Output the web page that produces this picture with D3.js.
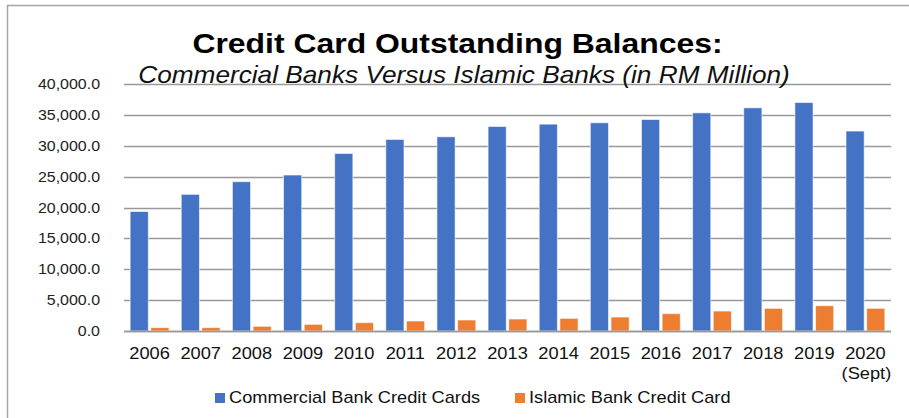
<!DOCTYPE html>
<html>
<head>
<meta charset="utf-8">
<script src="https://d3js.org/d3.v7.min.js"></script>
<style>
  body { margin: 0; background: #fff; }
  svg { display: block; font-family: "Liberation Sans", Arial, sans-serif; }
</style>
</head>
<body>
<div id="chart"></div>
<script>
const width = 909;
const height = 418;

const years = ['2006', '2007', '2008', '2009', '2010', '2011', '2012', '2013',
  '2014', '2015', '2016', '2017', '2018', '2019', '2020'];
const commercial = [19350, 22130, 24180, 25260, 28750, 31020, 31450, 33120,
  33500, 33720, 34250, 35330, 36140, 37000, 32380];
const islamic = [550, 550, 760, 1080, 1350, 1620, 1780, 1940,
  2050, 2260, 2810, 3230, 3670, 4100, 3670];
const seriesNames = ['Commercial Bank Credit Cards', 'Islamic Bank Credit Card'];
const colors = ['#4472c4', '#ed7d31'];
const yTicks = [0, 5000, 10000, 15000, 20000, 25000, 30000, 35000, 40000];

const margin = {top: 84, right: 18, bottom: 87, left: 124};
const sx = 1.14; // source image text is a bit stretched horizontally

const svg = d3.select('#chart')
  .append('svg')
  .attr('width', width)
  .attr('height', height);

// frame (top + left edge only visible)
svg.append('path')
  .attr('d', `M7.5,${height} V5.5 H${width}`)
  .attr('fill', 'none')
  .attr('stroke', '#a6a6a6')
  .attr('stroke-width', 1.5);

const x = d3.scaleBand()
  .domain(years)
  .range([margin.left, width - margin.right])
  .paddingInner(0.24)
  .paddingOuter(0.12);

const x1 = d3.scaleBand()
  .domain([0, 1])
  .range([0, x.bandwidth()])
  .paddingInner(0.12);

const y = d3.scaleLinear()
  .domain([0, 40000])
  .range([height - margin.bottom, margin.top]);

const at = (px, py) => `translate(${px},${py}) scale(${sx},1)`;

// gridlines
svg.append('g')
  .selectAll('line')
  .data(yTicks)
  .enter()
  .append('line')
  .attr('x1', margin.left)
  .attr('x2', width - margin.right)
  .attr('y1', d => Math.round(y(d)) + 0.5)
  .attr('y2', d => Math.round(y(d)) + 0.5)
  .attr('stroke', '#999')
  .attr('stroke-width', 1.5);

// y axis labels
const fmt = d3.format(',.1f');
svg.append('g')
  .selectAll('text')
  .data(yTicks)
  .enter()
  .append('text')
  .attr('transform', d => at(100, y(d) + 5))
  .attr('text-anchor', 'end')
  .style('font-size', '14px')
  .style('fill', '#222')
  .text(d => fmt(d));

// bars
const groups = svg.append('g')
  .selectAll('g')
  .data(years)
  .enter()
  .append('g')
  .attr('transform', d => `translate(${x(d)},0)`);

groups.selectAll('rect')
  .data((d, i) => [commercial[i], islamic[i]])
  .enter()
  .append('rect')
  .attr('x', (d, j) => x1(j))
  .attr('width', x1.bandwidth())
  .attr('y', d => y(d))
  .attr('height', d => y(0) - y(d))
  .attr('fill', (d, j) => colors[j])
  .attr('stroke', '#fff')
  .attr('stroke-opacity', 0.6)
  .attr('stroke-width', 1);

// redraw baseline over bars
svg.append('line')
  .attr('x1', margin.left)
  .attr('x2', width - margin.right)
  .attr('y1', Math.round(y(0)) + 0.5)
  .attr('y2', Math.round(y(0)) + 0.5)
  .attr('stroke', '#999')
  .attr('stroke-width', 1.5);

// x labels
svg.append('g')
  .selectAll('text')
  .data(years)
  .enter()
  .append('text')
  .attr('transform', d => at(x(d) + x.bandwidth() / 2, 359))
  .attr('text-anchor', 'middle')
  .style('font-size', '16px')
  .style('fill', '#111')
  .text(d => d);

svg.append('text')
  .attr('transform', at(x('2020') + x.bandwidth() / 2 + 1, 379))
  .attr('text-anchor', 'middle')
  .style('font-size', '16px')
  .style('fill', '#111')
  .text('(Sept)');

// title
svg.append('text')
  .attr('transform', at(457.5, 53))
  .attr('text-anchor', 'middle')
  .style('font-size', '28px')
  .style('font-weight', 'bold')
  .style('fill', '#000')
  .text('Credit Card Outstanding Balances:');

svg.append('text')
  .attr('transform', at(464, 83))
  .attr('text-anchor', 'middle')
  .style('font-size', '23px')
  .style('font-style', 'italic')
  .style('fill', '#111')
  .text('Commercial Banks Versus Islamic Banks (in RM Million)');

// legend
const legendX = [215, 515];
const legend = svg.append('g')
  .selectAll('g')
  .data(seriesNames)
  .enter()
  .append('g')
  .attr('transform', (d, i) => `translate(${legendX[i]},393)`);

legend.append('rect')
  .attr('width', 10)
  .attr('height', 10)
  .attr('fill', (d, i) => colors[i]);

legend.append('text')
  .attr('transform', at(14, 10))
  .style('font-size', '16px')
  .style('fill', '#111')
  .text(d => d);
</script>
</body>
</html>
